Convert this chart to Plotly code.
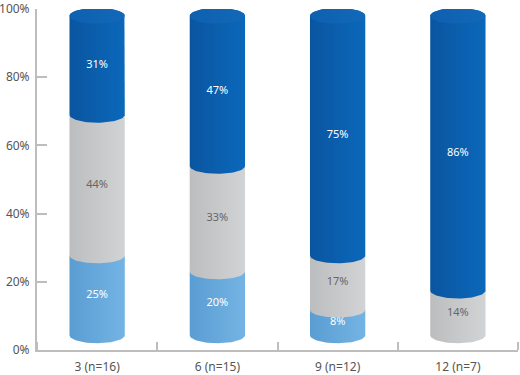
import numpy as np
import plotly.graph_objects as go

categories = ["3 (n=16)", "6 (n=15)", "9 (n=12)", "12 (n=7)"]
light_blue = [25, 20, 8, 0]
gray = [44, 33, 17, 14]
dark_blue = [31, 47, 75, 86]
y_ticks = [0, 20, 40, 60, 80, 100]
y_tick_labels = ["0%", "20%", "40%", "60%", "80%", "100%"]

# rendering constants (cylinder look)
BASE, SCALE = 4.3, 0.937      # cylinder occupies 4.3..98 of the axis
HW = 0.23                      # half width of cylinder in x units
RY = 2.3                       # ellipse half height in y units

series = [
    (light_blue, "#5a9dd2", "#74b4e4", "white"),
    (gray, "#bcbdbf", "#d2d3d5", "#666666"),
    (dark_blue, "#0a55a0", "#0b68ba", "white"),
]

def ymap(v):
    return BASE + SCALE * v

fig = go.Figure()
t = np.linspace(np.pi, 2 * np.pi, 40)
for i, cat in enumerate(categories):
    cum = 0.0
    vals_i = [s[0][i] for s in series]
    last_idx = max(k for k, v in enumerate(vals_i) if v > 0)
    for k, (vals, c1, c2, tc) in enumerate(series):
        v = vals[i]
        if v <= 0:
            continue
        y0, y1 = ymap(cum), ymap(cum + v)
        bx = i - HW * np.cos(t - np.pi)
        by = y0 + RY * np.sin(t)
        if k == last_idx:
            tt = np.linspace(0, np.pi, 40)
            tx = i + HW * np.cos(tt)
            ty = y1 + RY * np.sin(tt)
            xs = np.concatenate([bx, tx, [bx[0]]])
            ys = np.concatenate([by, ty, [by[0]]])
        else:
            xs = np.concatenate([bx, [i + HW, i - HW, bx[0]]])
            ys = np.concatenate([by, [y1, y1, by[0]]])
        fig.add_trace(go.Scatter(
            x=xs, y=ys, mode="lines", fill="toself",
            line=dict(width=0, color=c1),
            fillgradient=dict(type="horizontal", colorscale=[[0, c1], [1, c2]]),
            hoverinfo="skip", showlegend=False))
        if k == last_idx:
            tt = np.linspace(0, 2 * np.pi, 80)
            fig.add_trace(go.Scatter(
                x=i + HW * np.cos(tt), y=y1 + RY * np.sin(tt),
                mode="lines", fill="toself", line=dict(width=0, color=c2),
                fillgradient=dict(type="horizontal",
                                  colorscale=[[0, "#0e60b0"], [1, "#1368b8"]]),
                hoverinfo="skip", showlegend=False))
        fig.add_trace(go.Scatter(
            x=[i], y=[ymap(cum + v / 2)], mode="text", text=[f"{v}%"],
            textfont=dict(family="Noto Sans", size=11, color=tc),
            hoverinfo="skip", showlegend=False))
        cum += v

axis_color = "#bdbdbd"
fig.update_layout(
    width=520, height=375,
    margin=dict(l=37, r=2, t=9, b=25),
    plot_bgcolor="white", paper_bgcolor="white",
    font=dict(family="Noto Sans", size=12, color="#555555"),
    xaxis=dict(
        range=[-0.5, len(categories) - 0.5],
        tickmode="array", tickvals=list(range(len(categories))), ticktext=categories,
        ticks="", showline=True, linecolor=axis_color, linewidth=2,
        showgrid=False, zeroline=False, automargin=False, ticklabelstandoff=5,
        ticklabeloverflow="allow",
        minor=dict(tickmode="array",
                   tickvals=[j - 0.5 for j in range(len(categories) + 1)],
                   ticks="inside", ticklen=8, tickwidth=2, tickcolor=axis_color,
                   showgrid=False),
        fixedrange=True,
    ),
    yaxis=dict(
        range=[0, 100], tickmode="array", tickvals=y_ticks, ticktext=y_tick_labels,
        ticks="inside", ticklen=10, tickwidth=2, tickcolor=axis_color,
        showline=True, linecolor=axis_color, linewidth=2, automargin=False,
        ticklabeloverflow="allow", ticklabelstandoff=3,
        showgrid=False, zeroline=False, fixedrange=True,
    ),
)
fig.write_html("out.html", config={"displayModeBar": False},
               post_script="document.body.style.margin='0';document.body.style.padding='0';")
